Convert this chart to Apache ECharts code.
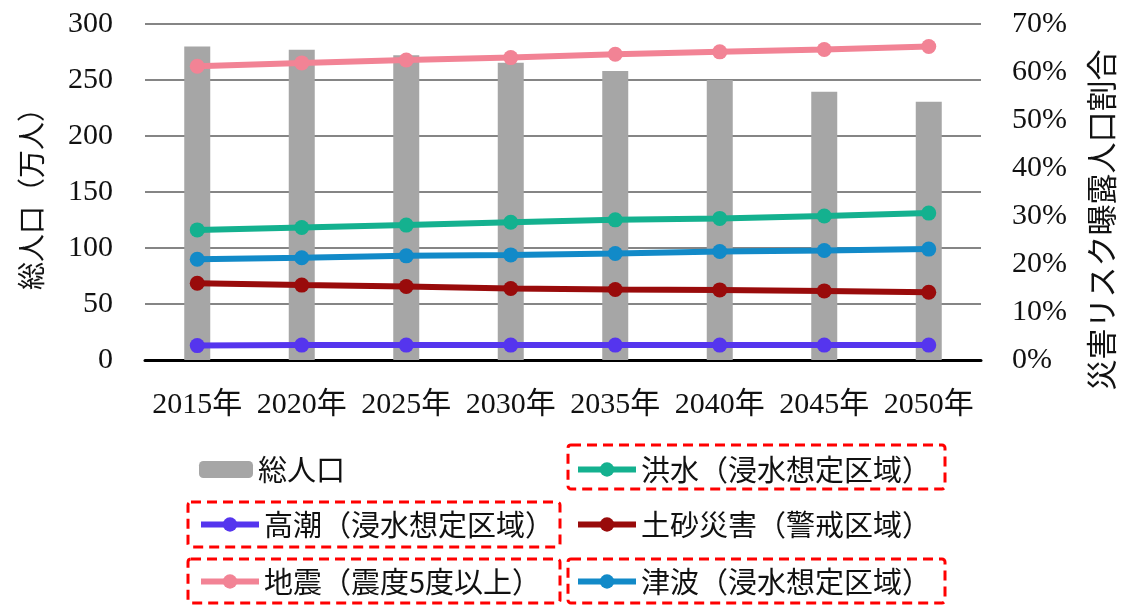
<!DOCTYPE html>
<html>
<head>
<meta charset="utf-8">
<script src="https://cdn.jsdelivr.net/npm/echarts@6/dist/echarts.min.js"></script>
<style>
html,body{margin:0;padding:0;background:#fff;}
#c{width:1138px;height:605px;}
</style>
</head>
<body>
<div id="c"></div>
<script>
const categories = ['2015年','2020年','2025年','2030年','2035年','2040年','2045年','2050年'];
const leftTicks = [0, 50, 100, 150, 200, 250, 300];
const rightTicks = ['0%','10%','20%','30%','40%','50%','60%','70%'];
const totalPop = [280, 277, 272, 265.5, 258, 250, 239.5, 230.5];
const quake = [61.2, 61.9, 62.5, 63.0, 63.7, 64.2, 64.7, 65.3];
const flood = [27.1, 27.6, 28.1, 28.7, 29.2, 29.5, 30.0, 30.6];
const tsunami = [21.0, 21.3, 21.7, 21.9, 22.2, 22.6, 22.8, 23.1];
const landslide = [16.0, 15.6, 15.3, 14.9, 14.7, 14.6, 14.4, 14.1];
const storm = [3.0, 3.1, 3.1, 3.1, 3.1, 3.1, 3.1, 3.1];

const names = {
  total: '総人口',
  flood: '洪水（浸水想定区域）',
  storm: '高潮（浸水想定区域）',
  land: '土砂災害（警戒区域）',
  quake: '地震（震度5度以上）',
  tsunami: '津波（浸水想定区域）'
};
const colors = {
  total: '#A6A6A6', flood: '#14B18F', storm: '#5535EE',
  land: '#990B0B', quake: '#F28395', tsunami: '#128AC8'
};

const serif = "'Liberation Serif','Noto Sans CJK JP'";
const sans = "'Noto Sans CJK JP'";

function lineSeries(key, data) {
  return {
    name: names[key], type: 'line', yAxisIndex: 1, data: data,
    symbol: 'circle', symbolSize: 15,
    lineStyle: { width: 6, color: colors[key] },
    itemStyle: { color: colors[key] },
    z: 3
  };
}

function legendAt(key, left, top) {
  return {
    data: [names[key]], left: left, top: top, padding: 0,
    itemWidth: 58, itemHeight: 18,
    lineStyle: { width: 6 },
    textStyle: { fontSize: 29, color: '#111', fontFamily: sans },
    selectedMode: false
  };
}

function box(x, y, w, h) {
  return {
    type: 'rect', shape: { x: x, y: y, width: w, height: h, r: 3 },
    style: { fill: 'none', stroke: '#FF0000', lineWidth: 3, lineDash: [10, 6] },
    silent: true
  };
}

const chart = echarts.init(document.getElementById('c'));
chart.setOption({
  animation: false,
  backgroundColor: '#fff',
  grid: { left: 145, right: 157, top: 24, bottom: 245 },
  xAxis: {
    type: 'category', data: categories,
    axisLine: { lineStyle: { color: '#000', width: 3 } },
    axisTick: { show: false },
    axisLabel: { fontSize: 30, color: '#111', fontFamily: serif, margin: 30, interval: 0 }
  },
  yAxis: [
    {
      type: 'value', min: 0, max: 300, interval: 50,
      name: '総人口（万人）', nameLocation: 'middle', nameRotate: 90, nameGap: 100,
      nameTextStyle: { fontSize: 28, color: '#111', fontFamily: sans },
      axisLine: { show: false }, axisTick: { show: false },
      axisLabel: { fontSize: 30, color: '#111', fontFamily: serif, margin: 32,
        formatter: v => String(leftTicks[leftTicks.indexOf(v)]) },
      splitLine: { lineStyle: { color: '#858585', width: 2 } }
    },
    {
      type: 'value', min: 0, max: 70, interval: 10, position: 'right',
      name: '災害リスク曝露人口割合', nameLocation: 'middle', nameRotate: 90, nameGap: 105,
      nameTextStyle: { fontSize: 31, color: '#111', fontFamily: sans, padding: [0, 56, 0, 0] },
      axisLine: { show: false }, axisTick: { show: false },
      axisLabel: { fontSize: 30, color: '#111', fontFamily: serif, margin: 31,
        formatter: v => rightTicks[Math.round(v / 10)] },
      splitLine: { show: false }
    }
  ],
  legend: [
    Object.assign(legendAt('total', 199, 455), { itemWidth: 54, itemHeight: 17 }),
    legendAt('flood', 575, 455),
    legendAt('storm', 198, 510),
    legendAt('land', 575, 510),
    legendAt('quake', 198, 567),
    legendAt('tsunami', 575, 567)
  ],
  series: [
    {
      name: names.total, type: 'bar', data: totalPop, barWidth: 26,
      itemStyle: { color: colors.total }, z: 2
    },
    lineSeries('flood', flood),
    lineSeries('storm', storm),
    lineSeries('land', landslide),
    lineSeries('quake', quake),
    lineSeries('tsunami', tsunami)
  ],
  graphic: [
    box(568, 445, 377, 44),
    box(188, 502, 372, 45),
    box(188, 559, 372, 44),
    box(568, 559, 377, 44)
  ]
});
</script>
</body>
</html>
